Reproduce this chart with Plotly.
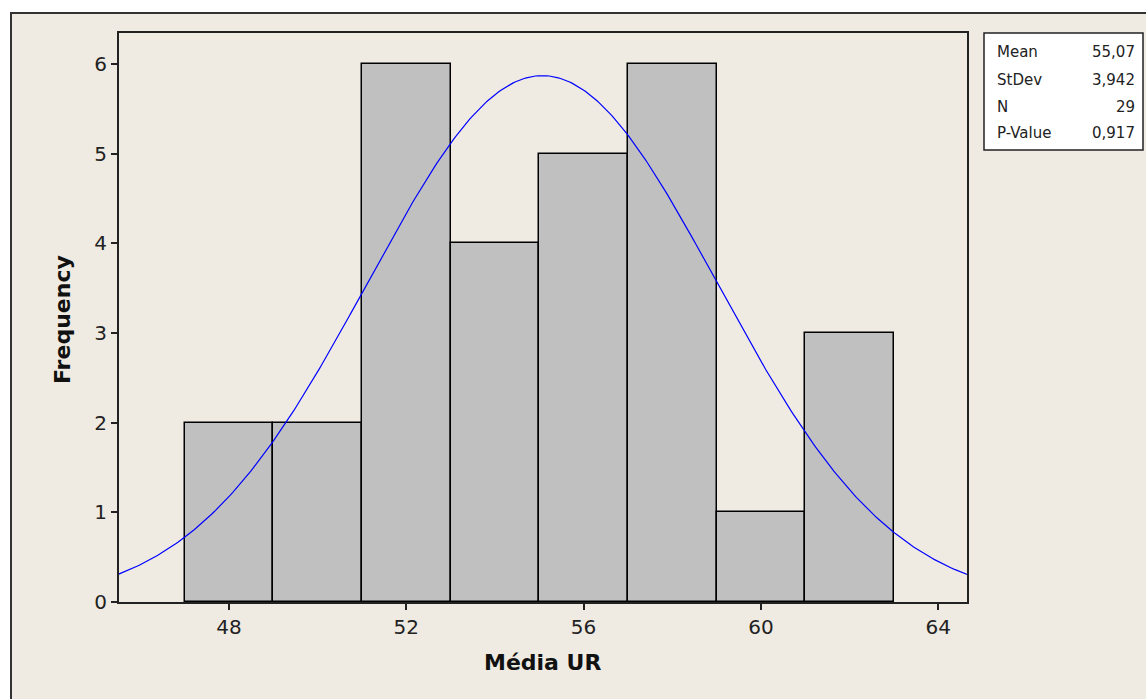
import numpy as np
import plotly.graph_objects as go

# Data
bin_starts = [47, 49, 51, 53, 55, 57, 59, 61]
bin_width = 2
counts = [2, 2, 6, 4, 5, 6, 1, 3]
mean = 55.07
stdev = 3.942
n = 29
x_ticks = [48, 52, 56, 60, 64]
y_ticks = [0, 1, 2, 3, 4, 5, 6]
stat_labels = ["Mean", "StDev", "N", "P-Value"]
stat_values = ["55,07", "3,942", "29", "0,917"]

W, H = 1146, 699
L, R, T, B = 119, 967, 33, 602
pw, ph = R - L, B - T

def px(x):
    return (x - L) / pw

def py(y):
    return (B - y) / ph

fig = go.Figure()

centers = [s + bin_width / 2 for s in bin_starts]
fig.add_trace(go.Bar(
    x=centers, y=counts, width=[bin_width] * len(counts),
    marker=dict(color="#C0C0C0", line=dict(color="#000000", width=1.5)),
    hoverinfo="skip", showlegend=False,
))

xc = np.linspace(45.0, 65.5, 400)
yc = n * bin_width * np.exp(-0.5 * ((xc - mean) / stdev) ** 2) / (stdev * np.sqrt(2 * np.pi))
fig.add_trace(go.Scatter(
    x=xc, y=yc, mode="lines", line=dict(color="#0000FF", width=1.2),
    hoverinfo="skip", showlegend=False,
))

font_family = "DejaVu Sans, Verdana, sans-serif"

fig.update_layout(
    width=W, height=H,
    margin=dict(l=L, r=W - R, t=T, b=H - B),
    paper_bgcolor="#FFFFFF",
    plot_bgcolor="#FFFFFF",
    bargap=0,
    font=dict(family=font_family, color="#222222"),
    xaxis=dict(
        range=[45.52, 64.65], tickvals=x_ticks, ticks="outside", ticklen=6,
        tickwidth=1.5, tickcolor="#222", showgrid=False, zeroline=False,
        showline=True, linecolor="#222", linewidth=2, mirror=True,
        tickfont=dict(size=20, color="#222"),
    ),
    yaxis=dict(
        range=[0, 6.345], tickvals=y_ticks, ticks="outside", ticklen=6,
        tickwidth=1.5, tickcolor="#222", showgrid=False, zeroline=False,
        showline=True, linecolor="#222", linewidth=2, mirror=True,
        tickfont=dict(size=20, color="#222"),
    ),
    shapes=[
        dict(type="rect", xref="paper", yref="paper", layer="below",
             x0=px(11), x1=px(1160), y0=py(13), y1=py(720),
             fillcolor="#EFEBE2", line=dict(color="#333333", width=2)),
        dict(type="rect", xref="paper", yref="paper",
             x0=px(984), x1=px(1143), y0=py(33), y1=py(150),
             fillcolor="#FFFFFF", line=dict(color="#222222", width=1.5)),
    ],
)

annotations = [
    dict(text="<b>Média UR</b>", xref="paper", yref="paper", x=px(542), y=py(662),
         showarrow=False, font=dict(size=22, color="#111"), xanchor="center", yanchor="middle"),
    dict(text="<b>Frequency</b>", xref="paper", yref="paper", x=px(62), y=py(320),
         showarrow=False, font=dict(size=22, color="#111"), textangle=-90,
         xanchor="center", yanchor="middle"),
]
row_y = [52, 80, 107, 133]
for lab, val, yy in zip(stat_labels, stat_values, row_y):
    annotations.append(dict(text=lab, xref="paper", yref="paper", x=px(995), y=py(yy),
                            showarrow=False, xanchor="left", yanchor="middle",
                            font=dict(size=15, color="#222")))
    annotations.append(dict(text=val, xref="paper", yref="paper", x=px(1137), y=py(yy),
                            showarrow=False, xanchor="right", yanchor="middle",
                            font=dict(size=15, color="#222")))
fig.update_layout(annotations=annotations)

fig.write_html("out.html")
